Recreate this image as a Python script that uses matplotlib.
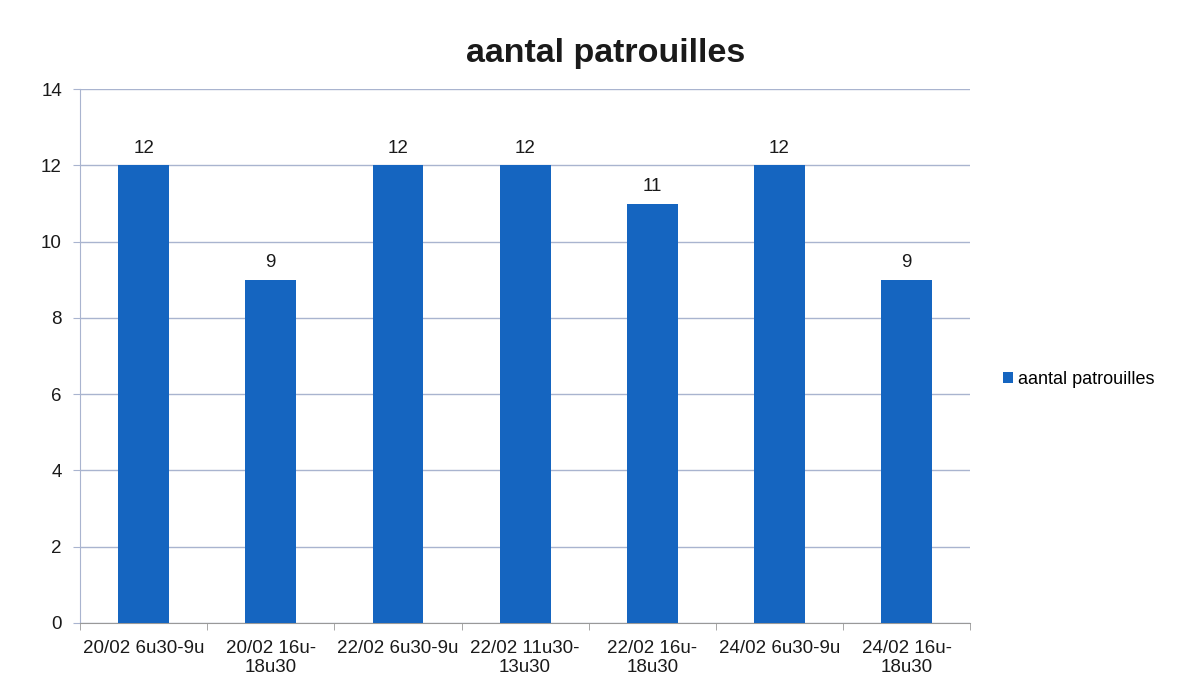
import numpy as np
import matplotlib.pyplot as plt

plt.rcParams['font.family'] = ['Liberation Sans', 'DejaVu Sans']

categories = ['20/02 6u30-9u', '20/02 16u-\n18u30', '22/02 6u30-9u', '22/02 11u30-\n13u30',
              '22/02 16u-\n18u30', '24/02 6u30-9u', '24/02 16u-\n18u30']
patrouilles = [12, 9, 12, 12, 11, 12, 9]
series_name = 'aantal patrouilles'

bar_color = '#1565c0'
grid_color = '#a9b4cf'
text_color = '#1a1a1a'

fig = plt.figure(figsize=(11.86, 6.86), dpi=100)
ax = fig.add_axes([0.0675, 0.092, 0.7505, 0.778])

x = np.arange(len(categories))
bars = ax.bar(x, patrouilles, width=0.4, color=bar_color, label=series_name, zorder=3)
for b, v in zip(bars, patrouilles):
    ax.annotate(str(v), (b.get_x() + b.get_width() / 2, v), xytext=(0, 6),
                textcoords='offset points', ha='center', va='bottom', fontsize=13.5, color=text_color)

ax.set_xlim(-0.5, len(categories) - 0.5)
ax.set_ylim(0, 14)
ax.set_yticks(range(0, 15, 2))
ax.yaxis.grid(True, color=grid_color, linewidth=1, zorder=0)

# category labels centred, tick marks on the boundaries
ax.set_xticks(x)
ax.set_xticklabels(categories, fontsize=13.5, color=text_color, linespacing=1.2)
ax.tick_params(axis='x', length=0, pad=12)
ax.set_xticks(np.arange(-0.5, len(categories)), minor=True)
ax.tick_params(axis='x', which='minor', length=5, color='#999999')
ax.tick_params(axis='y', length=5, color=grid_color, labelsize=13.5, labelcolor=text_color, pad=8)

for side in ['top', 'right']:
    ax.spines[side].set_visible(False)
ax.spines['left'].set_color(grid_color)
ax.spines['bottom'].set_color('#999999')

fig.suptitle(series_name, x=0.511, y=0.945, va='top', fontsize=24.5, fontweight='bold', color=text_color)

fig.legend(loc='center left', bbox_to_anchor=(0.832, 0.447), frameon=False, fontsize=13,
           handlelength=0.55, handleheight=0.55, handletextpad=0.3)

fig.savefig('out.png', dpi=100, facecolor='white')
